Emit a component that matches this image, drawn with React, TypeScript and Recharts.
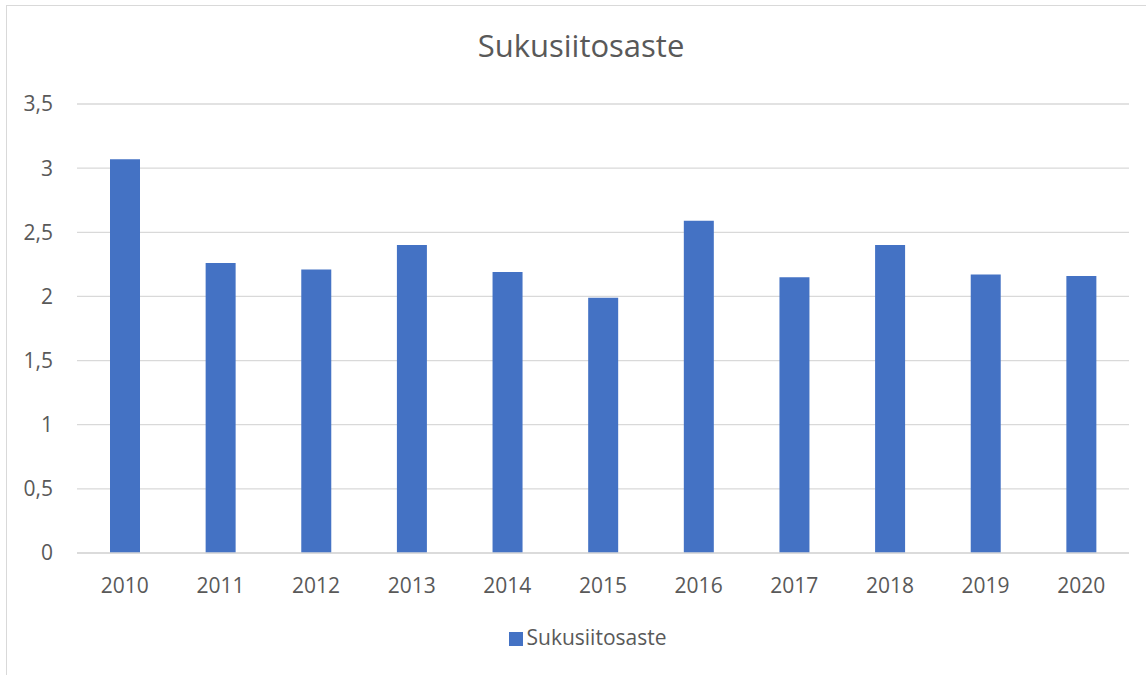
import React from 'react';
import { BarChart, Bar, XAxis, YAxis, CartesianGrid, Legend } from 'recharts';

const years = ['2010', '2011', '2012', '2013', '2014', '2015', '2016', '2017', '2018', '2019', '2020'];
const sukusiitosaste = [3.07, 2.26, 2.21, 2.4, 2.19, 1.99, 2.59, 2.15, 2.4, 2.17, 2.16];
const yTicks = [0, 0.5, 1, 1.5, 2, 2.5, 3, 3.5];

const data = years.map((year, i) => ({ year, value: sukusiitosaste[i] }));

const FONT = '"Open Sans", sans-serif';
const TEXT = '#595959';
const BAR = '#4472C4';
const GRID = '#d9d9d9';

const LegendContent = () => (
  <div style={{ display: 'flex', justifyContent: 'center', alignItems: 'center', paddingLeft: 29, fontFamily: FONT }}>
    <span style={{ display: 'inline-block', width: 14, height: 14, backgroundColor: BAR, marginRight: 4, marginTop: 2 }}></span>
    <span style={{ fontSize: 21, lineHeight: 1, color: TEXT }}>Sukusiitosaste</span>
  </div>
);

const App: React.FC = () => {
  return (
    <div style={{ position: 'absolute', left: 0, top: 0, width: 1146, height: 675, overflow: 'hidden', background: '#fff' }}>
      <div style={{ position: 'absolute', left: 6, top: 5, width: 1170, height: 700, border: `1px solid ${GRID}` }}></div>
      <div
        style={{
          position: 'absolute', left: 0, top: 30, width: 1162, textAlign: 'center',
          fontFamily: FONT, fontSize: 31, lineHeight: 1, color: TEXT,
        }}
      >
        Sukusiitosaste
      </div>
      <div style={{ position: 'absolute', left: 0, top: 0 }}>
        <BarChart width={1146} height={675} data={data} margin={{ top: 104, right: 17, bottom: 82, left: 0 }}>
          <CartesianGrid vertical={false} stroke={GRID} strokeWidth={1.3} />
          <XAxis
            dataKey="year"
            height={40}
            axisLine={{ stroke: GRID, strokeWidth: 1.3 }}
            tickLine={false}
            tickSize={0}
            tickMargin={25}
            tick={{ fill: TEXT, fontSize: 21, fontFamily: FONT }}
          />
          <YAxis
            width={77}
            domain={[0, 3.5]}
            ticks={yTicks}
            axisLine={false}
            tickLine={false}
            tickSize={0}
            tickMargin={24}
            tick={{ fill: TEXT, fontSize: 21, fontFamily: FONT }}
            tickFormatter={(v: number) => String(v).replace('.', ',')}
          />
          <Legend
            layout="horizontal"
            verticalAlign="middle"
            align="center"
            wrapperStyle={{ top: 627, left: 0, width: 1146 }}
            content={<LegendContent />}
          />
          <Bar dataKey="value" name="Sukusiitosaste" fill={BAR} barSize={30} isAnimationActive={false} />
        </BarChart>
      </div>
    </div>
  );
};

export default App;
